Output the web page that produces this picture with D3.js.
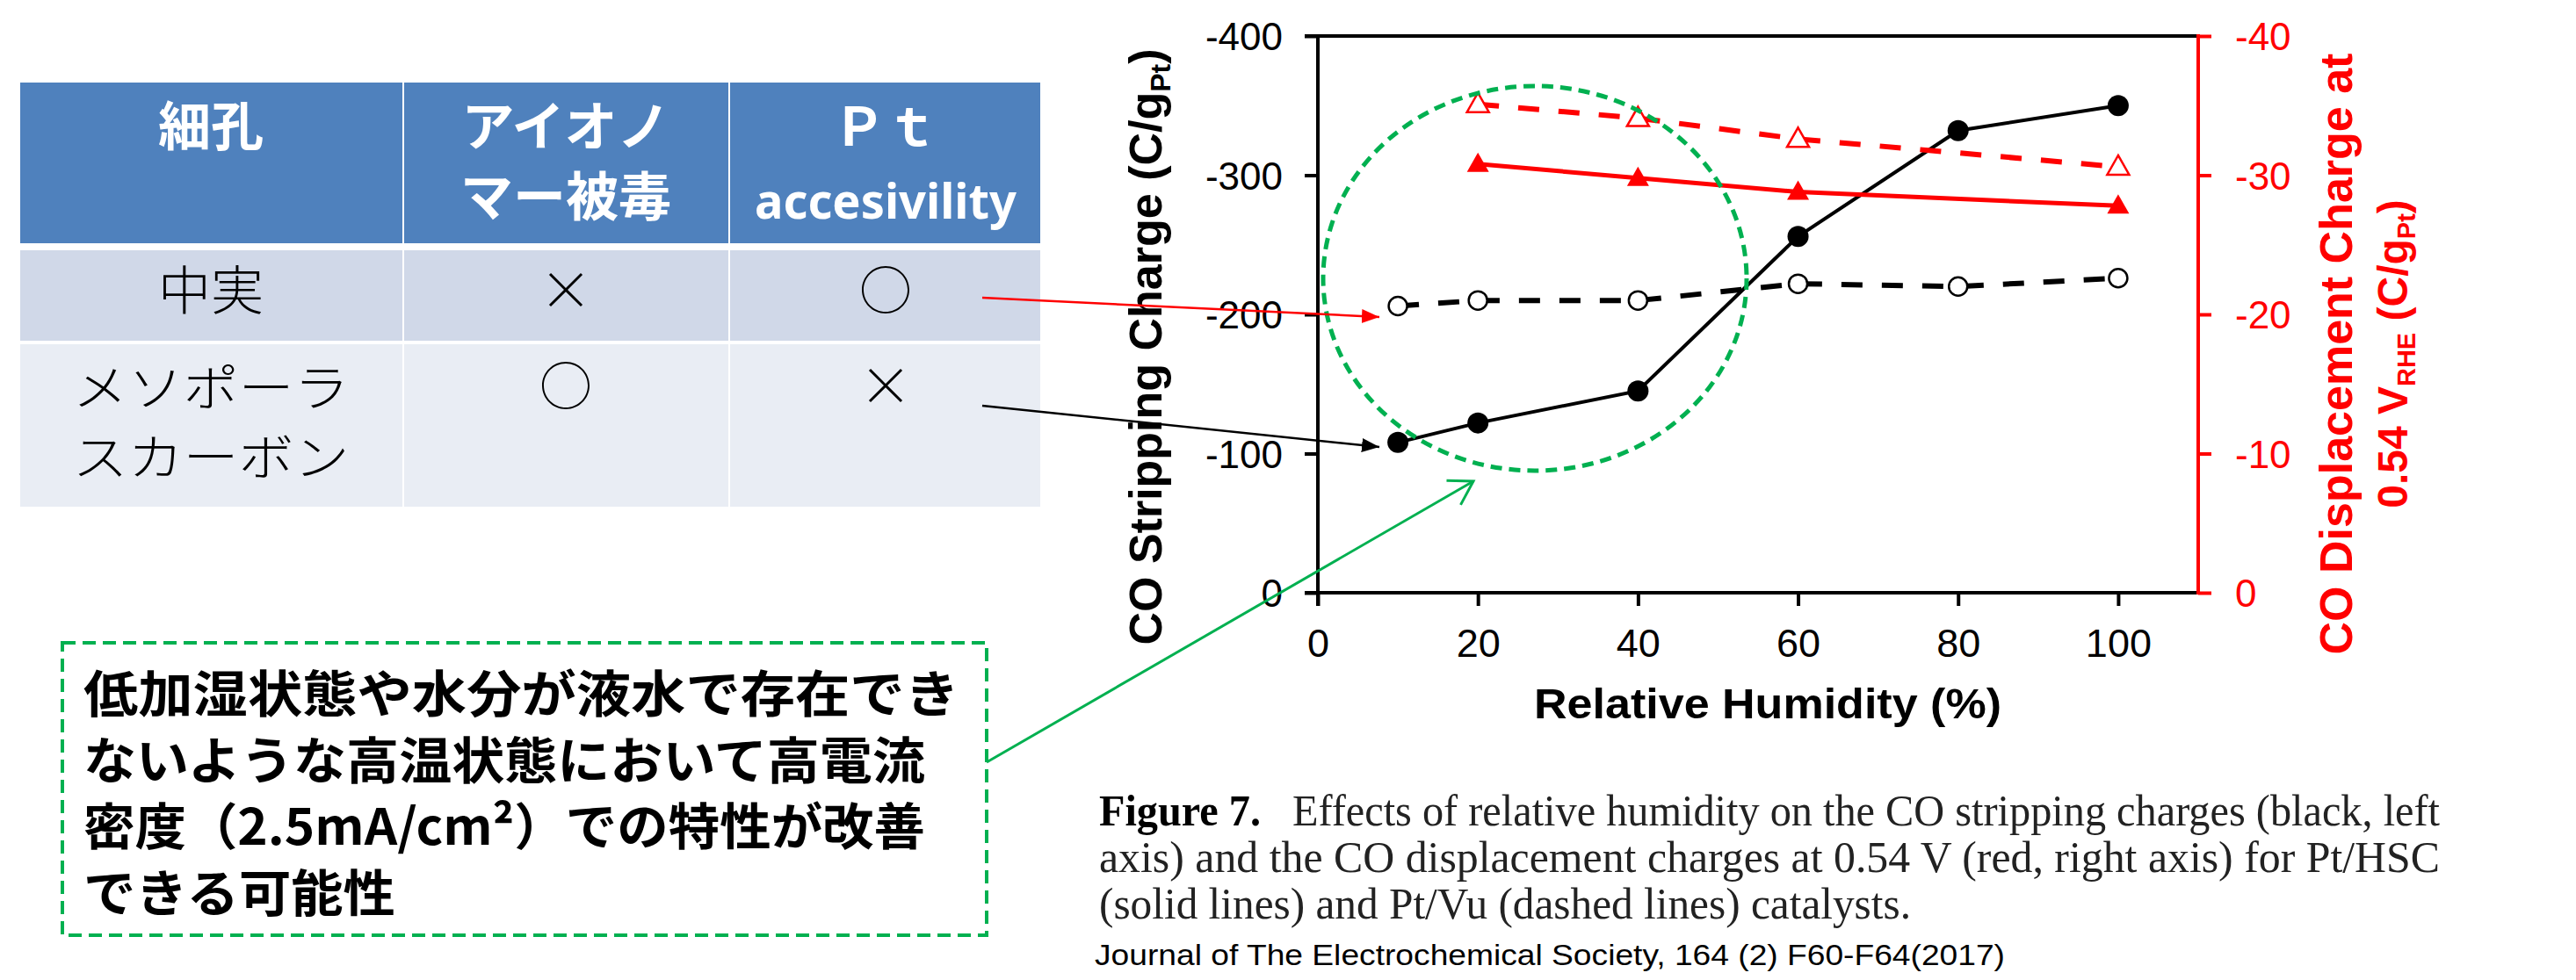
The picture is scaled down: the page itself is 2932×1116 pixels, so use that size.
<!DOCTYPE html>
<html>
<head>
<meta charset="utf-8">
<script src="https://cdn.jsdelivr.net/npm/d3@7"></script>
<style>
  html, body { margin: 0; padding: 0; background: #fff; }
  svg { display: block; }
</style>
</head>
<body>
<svg id="chart" width="2932" height="1116"></svg>
<script>
// ---------------- DATA ----------------
const humidity = [10, 20, 40, 60, 80, 100];
const hscStripping = [-108, -122, -145, -256, -332, -350];   // Pt/HSC solid, black, left axis
const vuStripping  = [-206, -210, -210, -222, -220, -226];   // Pt/Vu dashed, black, left axis
const humidityDisp = [20, 40, 60, 100];
const hscDisplacement = [-30.8, -29.8, -28.8, -27.8];        // Pt/HSC solid, red, right axis
const vuDisplacement  = [-35.1, -34.1, -32.6, -30.6];        // Pt/Vu dashed, red, right axis
const xTicks = [0, 20, 40, 60, 80, 100];
const leftTicks = [0, -100, -200, -300, -400];
const rightTicks = [0, -10, -20, -30, -40];

const xTitle = "Relative Humidity (%)";
const tableHeader = [["細孔"], ["アイオノ", "マー被毒"], ["Ｐｔ", "accesivility"]];
const tableRows = [
  [["中実"], ["×"], ["○"]],
  [["メソポーラ", "スカーボン"], ["○"], ["×"]]
];
const noteLines = ["低加湿状態や水分が液水で存在でき", "ないような高温状態において高電流", "密度（2.5mA/cm²）での特性が改善", "できる可能性"];
const captionLines = ["Effects of relative humidity on the CO stripping charges (black, left",
  "axis) and the CO displacement charges at 0.54 V (red, right axis) for Pt/HSC",
  "(solid lines) and Pt/Vu (dashed lines) catalysts."];
const sourceLine = "Journal of The Electrochemical Society, 164 (2) F60-F64(2017)";

// ---------------- SETUP ----------------
const svg = d3.select("#chart");
const SANS = "'Liberation Sans', Arial, Helvetica, sans-serif";
const SERIF = "'Liberation Serif', 'Times New Roman', serif";
const JP = "'Noto Sans CJK JP', 'Noto Sans CJK SC', sans-serif";
const RED = "#FF0000", GREEN = "#00B050";

const x = d3.scaleLinear().domain([0, 110]).range([1500, 2502]);
const yL = d3.scaleLinear().domain([0, -400]).range([675, 41]);
const yR = d3.scaleLinear().domain([0, -40]).range([675, 41]);

const defs = svg.append("defs");
function arrowMarker(id, color) {
  defs.append("marker").attr("id", id).attr("markerUnits", "userSpaceOnUse")
    .attr("markerWidth", 24).attr("markerHeight", 20).attr("refX", 20).attr("refY", 8)
    .attr("orient", "auto")
    .append("path").attr("d", "M0,0 L20,8 L0,16 Z").attr("fill", color);
}
arrowMarker("arrRed", RED);
arrowMarker("arrBlack", "#000");
defs.append("marker").attr("id", "arrGreen").attr("markerUnits", "userSpaceOnUse")
  .attr("markerWidth", 40).attr("markerHeight", 40).attr("refX", 32).attr("refY", 20)
  .attr("orient", "auto")
  .append("path").attr("d", "M6,4 L32,20 L6,36").attr("fill", "none")
  .attr("stroke", GREEN).attr("stroke-width", 3);

// ---------------- TABLE ----------------
const colX = [23, 460, 831, 1186];
const hdrY = [94, 277];
const rowY = [[285, 388], [392, 577]];
const rowFill = ["#D0D8E8", "#E9EDF4"];
const tbl = svg.append("g");
for (let c = 0; c < 3; c++) {
  tbl.append("rect").attr("x", colX[c]).attr("y", hdrY[0])
    .attr("width", colX[c + 1] - colX[c] - 2).attr("height", hdrY[1] - hdrY[0]).attr("fill", "#4F81BD");
  rowY.forEach((ry, r) => {
    tbl.append("rect").attr("x", colX[c]).attr("y", ry[0])
      .attr("width", colX[c + 1] - colX[c] - 2).attr("height", ry[1] - ry[0]).attr("fill", rowFill[r]);
  });
}
const colCx = [240, 644, 1008];
tableHeader.forEach((lines, c) => {
  lines.forEach((t, i) => {
    const isLatin = /^[a-z]/.test(t);
    const el = tbl.append("text").attr("x", colCx[c]).attr("y", i === 0 ? 166 : (isLatin ? 249 : 246))
      .attr("text-anchor", "middle").attr("fill", "#fff").attr("font-weight", "bold")
      .attr("font-family", isLatin ? "'Noto Sans', " + SANS : JP)
      .attr("font-size", isLatin ? 56 : 60).text(t);
    if (isLatin) el.attr("textLength", 298).attr("lengthAdjust", "spacingAndGlyphs");
  });
});
const rowCenters = [[331], [440, 519]];
tableRows.forEach((row, r) => {
  row.forEach((lines, c) => {
    lines.forEach((t, i) => {
      const el = tbl.append("text").attr("x", colCx[c]).attr("y", rowCenters[r][i] + 22)
        .attr("text-anchor", "middle").attr("fill", "#000")
        .attr("font-family", JP).attr("font-size", lines.length > 1 ? 56 : 60).attr("font-weight", 300).text(t);
      if (lines.length > 1) el.attr("textLength", 315).attr("lengthAdjust", "spacingAndGlyphs");
    });
  });
});

// ---------------- NOTE BOX ----------------
svg.append("rect").attr("x", 71).attr("y", 732).attr("width", 1052).attr("height", 333)
  .attr("fill", "none").attr("stroke", GREEN).attr("stroke-width", 4).attr("stroke-dasharray", "15,8");
const noteW = [997, 958, 958, 355];
noteLines.forEach((t, i) => {
  svg.append("text").attr("x", 95).attr("y", 811 + i * 75.5)
    .attr("font-family", JP).attr("font-weight", "bold").attr("font-size", 57)
    .attr("textLength", noteW[i]).attr("lengthAdjust", "spacingAndGlyphs").attr("fill", "#000").text(t);
});

// ---------------- CHART ----------------
const chart = svg.append("g");
const gx = chart.append("g").attr("transform", `translate(0,${yL.range()[0]})`)
  .call(d3.axisBottom(x).tickValues(xTicks).tickSize(15).tickPadding(26).tickFormat(d => String(d)));
const gl = chart.append("g").attr("transform", `translate(${x.range()[0]},0)`)
  .call(d3.axisLeft(yL).tickValues(leftTicks).tickSize(15).tickPadding(25).tickFormat(d => String(d)));
const gr = chart.append("g").attr("transform", `translate(${x.range()[1]},0)`)
  .call(d3.axisRight(yR).tickValues(rightTicks).tickSize(15).tickPadding(27).tickFormat(d => String(d)));
[gx, gl, gr].forEach(g => {
  g.select(".domain").remove();
  g.attr("font-family", SANS).attr("font-size", 44);
  g.selectAll(".tick line").attr("stroke-width", 4);
});
gx.selectAll(".tick text").attr("font-size", 45).attr("fill", "#000");
gl.selectAll(".tick text").attr("fill", "#000").attr("dy", "0.36em");
gr.selectAll(".tick line").attr("stroke", RED);
gr.selectAll(".tick text").attr("fill", RED).attr("dy", "0.36em");

const [x0, x1] = x.range();
const [yb, yt] = yL.range();
chart.append("line").attr("x1", x0 - 15).attr("x2", x1).attr("y1", yt).attr("y2", yt).attr("stroke", "#000").attr("stroke-width", 4);
chart.append("line").attr("x1", x0 - 15).attr("x2", x1).attr("y1", yb).attr("y2", yb).attr("stroke", "#000").attr("stroke-width", 4);
chart.append("line").attr("x1", x0).attr("x2", x0).attr("y1", yt - 2).attr("y2", yb + 15).attr("stroke", "#000").attr("stroke-width", 4);
chart.append("line").attr("x1", x1).attr("x2", x1).attr("y1", yt - 2).attr("y2", yb + 2).attr("stroke", RED).attr("stroke-width", 4);

chart.append("text").attr("x", 2012).attr("y", 818).attr("text-anchor", "middle")
  .attr("font-family", SANS).attr("font-weight", "bold").attr("font-size", 48)
  .attr("textLength", 532).attr("lengthAdjust", "spacingAndGlyphs").text(xTitle);

const lt = chart.append("text").attr("transform", "translate(1322,395) rotate(-90)")
  .attr("text-anchor", "middle").attr("font-family", SANS).attr("font-weight", "bold").attr("font-size", 52);
lt.append("tspan").text("CO Stripping Charge (C/g");
lt.append("tspan").attr("font-size", 32).attr("dy", 10).text("Pt");
lt.append("tspan").attr("dy", -10).text(")");

chart.append("text").attr("transform", "translate(2677,403) rotate(-90)")
  .attr("text-anchor", "middle").attr("font-family", SANS).attr("font-weight", "bold").attr("font-size", 52)
  .attr("fill", RED).text("CO Displacement Charge at");
const rt = chart.append("text").attr("transform", "translate(2740,403) rotate(-90)")
  .attr("text-anchor", "middle").attr("font-family", SANS).attr("font-weight", "bold").attr("font-size", 48)
  .attr("fill", RED);
rt.append("tspan").text("0.54 V");
rt.append("tspan").attr("font-size", 29).attr("dy", 9).text("RHE");
rt.append("tspan").attr("dy", -9).text(" (C/g");
rt.append("tspan").attr("font-size", 29).attr("dy", 9).text("Pt");
rt.append("tspan").attr("dy", -9).text(")");

const lineL = d3.line().x(d => x(d[0])).y(d => yL(d[1]));
const lineR = d3.line().x(d => x(d[0])).y(d => yR(d[1]));
const vuS = humidity.map((h, i) => [h, vuStripping[i]]);
const hscS = humidity.map((h, i) => [h, hscStripping[i]]);
const vuD = humidityDisp.map((h, i) => [h, vuDisplacement[i]]);
const hscD = humidityDisp.map((h, i) => [h, hscDisplacement[i]]);

chart.append("path").attr("d", lineL(vuS)).attr("fill", "none").attr("stroke", "#000").attr("stroke-width", 6).attr("stroke-dasharray", "24,22");
chart.append("path").attr("d", lineL(hscS)).attr("fill", "none").attr("stroke", "#000").attr("stroke-width", 4);
chart.append("path").attr("d", lineR(vuD)).attr("fill", "none").attr("stroke", RED).attr("stroke-width", 6).attr("stroke-dasharray", "24,22");
chart.append("path").attr("d", lineR(hscD)).attr("fill", "none").attr("stroke", RED).attr("stroke-width", 5);

const tri = "M0,-13 L12.5,9 L-12.5,9 Z";
chart.selectAll(".vuS").data(vuS).enter().append("circle")
  .attr("cx", d => x(d[0])).attr("cy", d => yL(d[1])).attr("r", 10.5)
  .attr("fill", "#fff").attr("stroke", "#000").attr("stroke-width", 2.5);
chart.selectAll(".hscS").data(hscS).enter().append("circle")
  .attr("cx", d => x(d[0])).attr("cy", d => yL(d[1])).attr("r", 12).attr("fill", "#000");
chart.selectAll(".vuD").data(vuD).enter().append("path")
  .attr("transform", d => `translate(${x(d[0])},${yR(d[1])})`).attr("d", tri)
  .attr("fill", "#fff").attr("stroke", RED).attr("stroke-width", 2.5);
chart.selectAll(".hscD").data(hscD).enter().append("path")
  .attr("transform", d => `translate(${x(d[0])},${yR(d[1])})`).attr("d", tri).attr("fill", RED);

svg.append("ellipse").attr("cx", 1747).attr("cy", 317).attr("rx", 241).attr("ry", 219)
  .attr("fill", "none").attr("stroke", GREEN).attr("stroke-width", 5).attr("stroke-dasharray", "13,8");

svg.append("line").attr("x1", 1118).attr("y1", 339).attr("x2", 1570).attr("y2", 361)
  .attr("stroke", RED).attr("stroke-width", 2.5).attr("marker-end", "url(#arrRed)");
svg.append("line").attr("x1", 1118).attr("y1", 462).attr("x2", 1570).attr("y2", 509)
  .attr("stroke", "#000").attr("stroke-width", 2.5).attr("marker-end", "url(#arrBlack)");
svg.append("line").attr("x1", 1123).attr("y1", 868).attr("x2", 1677).attr("y2", 548)
  .attr("stroke", GREEN).attr("stroke-width", 3).attr("marker-end", "url(#arrGreen)");

svg.append("text").attr("x", 1251).attr("y", 940).attr("font-family", SERIF).attr("font-weight", "bold")
  .attr("font-size", 50).attr("textLength", 184).attr("lengthAdjust", "spacingAndGlyphs").text("Figure 7.");
const capX = [1471, 1251, 1251], capW = [1306, 1526, 924], capY = [940, 993, 1046];
captionLines.forEach((t, i) => {
  svg.append("text").attr("x", capX[i]).attr("y", capY[i]).attr("font-family", SERIF)
    .attr("font-size", 50).attr("textLength", capW[i]).attr("lengthAdjust", "spacingAndGlyphs")
    .attr("fill", "#222").text(t);
});
svg.append("text").attr("x", 1246).attr("y", 1099).attr("font-family", SANS).attr("font-size", 34)
  .attr("textLength", 1036).attr("lengthAdjust", "spacingAndGlyphs").text(sourceLine);
</script>
</body>
</html>
